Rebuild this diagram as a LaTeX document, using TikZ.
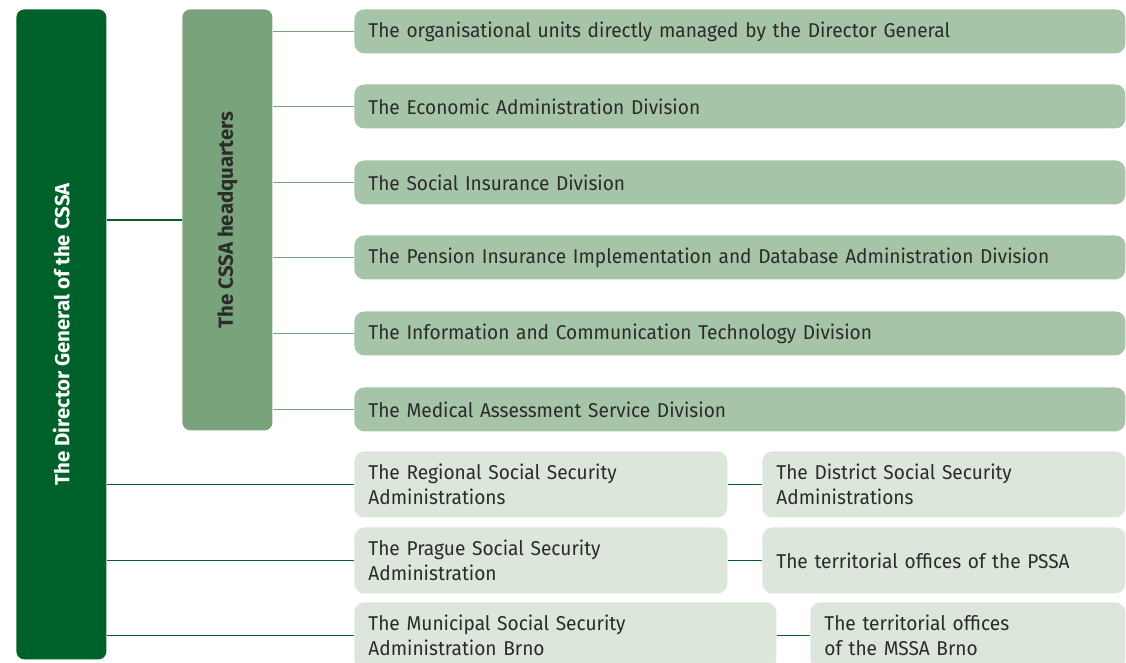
\documentclass[tikz,border=0pt]{standalone}
\usepackage{fontspec}
\setmainfont[FakeStretch=0.955]{Fira Sans}
\newfontfamily\barfont{Fira Sans}
\usepackage{xcolor}
\usetikzlibrary{positioning,calc}

\definecolor{dgreen}{HTML}{00622A}
\definecolor{hqgreen}{HTML}{79A37B}
\definecolor{divgreen}{HTML}{A6C4A7}
\definecolor{subgreen}{HTML}{DCE6DB}
\definecolor{txtgray}{HTML}{2B2B2B}

\tikzset{
  dgbar/.style={fill=dgreen, rounded corners=4pt, anchor=north west, inner sep=0pt,
    minimum width=45pt, minimum height=325pt},
  hqbar/.style={fill=hqgreen, rounded corners=4pt, anchor=north west, inner sep=0pt,
    minimum width=45pt, minimum height=210.5pt},
  barlabel/.style={rotate=90, font=\fontsize{10.2}{12.5}\selectfont\barfont\bfseries},
  divbox/.style={fill=divgreen, rounded corners=5pt, anchor=north west, inner xsep=7pt,
    inner ysep=0pt, minimum height=22pt, text width=371.5pt, align=left, text=txtgray},
  subbox/.style={fill=subgreen, rounded corners=5pt, anchor=north west, inner xsep=7pt,
    inner ysep=0pt, minimum height=33pt, text width=#1, align=left, text=txtgray},
  dglink/.style={draw=dgreen, line width=0.75pt},
  hqlink/.style={draw=hqgreen, line width=0.5pt}
}

\begin{document}
\begin{tikzpicture}[x=0.5pt, y=-0.5pt, font=\fontsize{10}{12.5}\selectfont]
    \useasboundingbox (0,0) rectangle (1126,663);
    \clip (0,0) rectangle (1126,663);

    % Director General and headquarters
    \node[dgbar] (dg) at (16,9) {};
    \node[barlabel, text=white] (dglabel) at (dg.center) {The Director General of the CSSA};
    \node[hqbar] (hq) at (182,9) {};
    \node[barlabel, text=txtgray] (hqlabel) at (hq.center) {The CSSA headquarters};

    % Divisions of the headquarters
    \node[divbox] (d1) at (354,9) {The organisational units directly managed by the Director General};
    \node[divbox] (d2) at (354,84) {The Economic Administration Division};
    \node[divbox] (d3) at (354,160) {The Social Insurance Division};
    \node[divbox] (d4) at (354,235) {The Pension Insurance Implementation and Database Administration Division};
    \node[divbox] (d5) at (354,311) {The Information and Communication Technology Division};
    \node[divbox] (d6) at (354,387) {The Medical Assessment Service Division};

    % Regional level
    \node[subbox=172.5pt] (ra) at (354,451) {The Regional Social Security\\Administrations};
    \node[subbox=167.5pt] (rb) at (762,451) {The District Social Security\\Administrations};
    \node[subbox=172.5pt] (pa) at (354,527) {The Prague Social Security\\Administration};
    \node[subbox=167.5pt] (pb) at (762,527) {The territorial offices of the PSSA};
    \node[subbox=197pt] (ma) at (354,602) {The Municipal Social Security\\Administration Brno};
    \node[subbox=143.5pt] (mb) at (810,602) {The territorial offices\\of the MSSA Brno};

    % Connectors
    \draw[dglink] (dg.east |- hq.west) -- (hq.west);
    \foreach \d in {d1,d2,d3,d4,d5,d6}
        \draw[hqlink] (\d.west -| hq.east) -- (\d.west);
    \foreach \a/\b in {ra/rb, pa/pb, ma/mb} {
        \draw[dglink] (\a.west -| dg.east) -- (\a.west);
        \draw[dglink] (\a.east) -- (\b.west);
    }
\end{tikzpicture}
\end{document}
